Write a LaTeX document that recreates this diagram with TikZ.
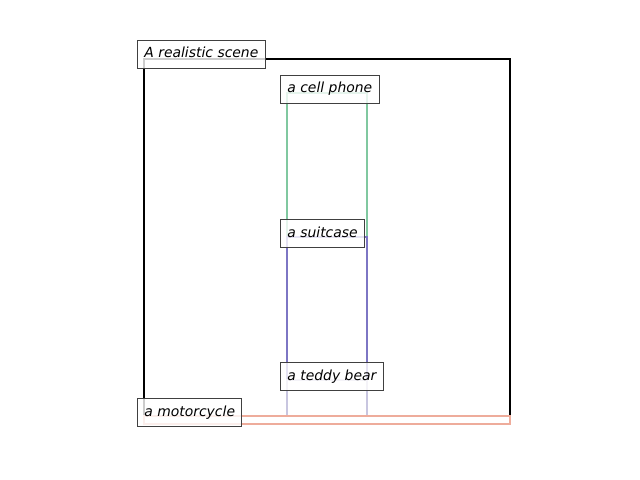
\documentclass[tikz,border=0pt]{standalone}
\usepackage{fontspec}
\setmainfont{DejaVu Sans}
\definecolor{phonegreen}{RGB}{128,200,160}
\definecolor{suitpurple}{RGB}{125,118,196}
\definecolor{bearlav}{RGB}{200,198,224}
\definecolor{motosalmon}{RGB}{238,172,155}
\begin{document}
\begin{tikzpicture}[x=0.025cm,y=-0.025cm,
box/.style={line width=2.1pt},
lbl/.style={draw=black!75,fill=white,fill opacity=0.8,text opacity=1,line width=0.8pt,anchor=base west,inner sep=0.17cm,text height=0.76em,text depth=0.24em,font=\fontsize{9.9}{12}\selectfont\itshape},
]
\useasboundingbox (0,0) rectangle (640,480);
\draw[box,black] (144,59) rectangle (510,424);
\draw[box,phonegreen] (287,93) rectangle (367,237);
\draw[box,suitpurple] (287,237) rectangle (367,380);
\draw[box,bearlav] (287,380) rectangle (367,416);
\draw[box,motosalmon] (144,416) rectangle (510,424);
\node[lbl] (scene) at (137,58) {A realistic scene};
\node[lbl] (phone) at (280,93) {a cell phone};
\node[lbl] (suitcase) at (280,237) {a suitcase};
\node[lbl] (bear) at (280,380) {a teddy bear};
\node[lbl] (moto) at (137,416) {a motorcycle};
\end{tikzpicture}
\end{document}
